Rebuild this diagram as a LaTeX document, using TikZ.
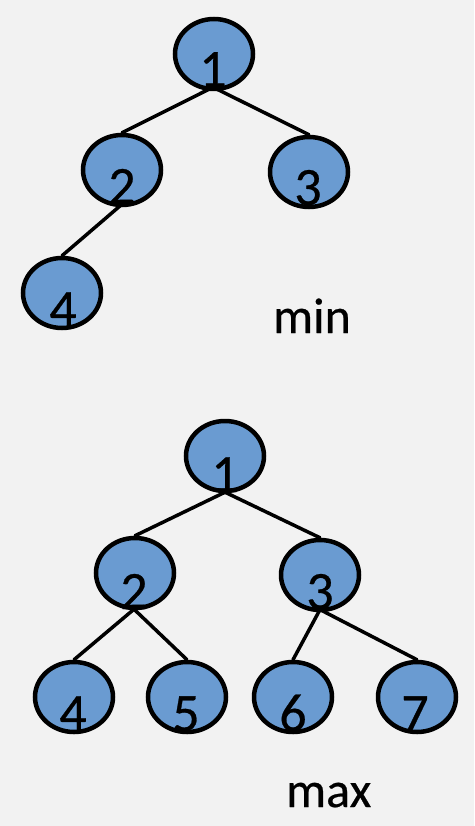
\documentclass[tikz,border=0pt]{standalone}
\usepackage{fontspec}
\setmainfont{Carlito}[FakeBold=0.5]
\usetikzlibrary{shapes.geometric}
\definecolor{pagebg}{HTML}{F2F2F2}
\definecolor{heapblue}{HTML}{6A9BD1}
\tikzset{
  heapnode/.style={ellipse, draw=black, line width=4.5pt, fill=heapblue,
    minimum width=78pt, minimum height=70pt, inner sep=0pt},
  digit/.style={anchor=base, inner sep=0pt, font=\fontsize{54}{60}\selectfont},
  caption/.style={anchor=base west, inner sep=0pt, font=\fontsize{50}{58}\selectfont},
  edge/.style={line width=3.5pt, line cap=round}
}
\begin{document}
\begin{tikzpicture}[x=1pt,y=1pt]
  \fill[pagebg] (0,0) rectangle (474,-826);
  \useasboundingbox (0,0) rectangle (474,-826);

  % upper tree: 1 / 2 3 / 4
  \node[heapnode] (a1) at (214,-54) {};
  \node[heapnode] (a2) at (122,-170) {};
  \node[heapnode] (a3) at (309,-172) {};
  \node[heapnode] (a4) at (62,-293) {};

  % lower tree: 1 / 2 3 / 4 5 6 7
  \node[heapnode] (b1) at (225,-456) {};
  \node[heapnode] (b2) at (135,-573) {};
  \node[heapnode] (b3) at (320,-575) {};
  \node[heapnode] (b4) at (74,-697) {};
  \node[heapnode] (b5) at (187,-697) {};
  \node[heapnode] (b6) at (293,-697) {};
  \node[heapnode] (b7) at (417,-697) {};

  % digits sitting low in each ellipse
  \node[digit] (ta1) at (213,-87) {1};
  \node[digit] (ta2) at (122,-204) {2};
  \node[digit] (ta3) at (308,-205) {3};
  \node[digit] (ta4) at (63,-327) {4};
  \node[digit] (tb1) at (225,-492) {1};
  \node[digit] (tb2) at (134,-609) {2};
  \node[digit] (tb3) at (320,-609) {3};
  \node[digit] (tb4) at (73,-731) {4};
  \node[digit] (tb5) at (186,-731) {5};
  \node[digit] (tb6) at (293,-731) {6};
  \node[digit] (tb7) at (415,-731) {7};

  % edges from the bottom of a parent's digit to the top of the child
  \draw[edge] (ta1.south) -- (a2.north);
  \draw[edge] (ta1.south) -- (a3.north);
  \draw[edge] (ta2.south) -- (a4.north);
  \draw[edge] (tb1.south) -- (b2.north);
  \draw[edge] (tb1.south) -- (b3.north);
  \draw[edge] (tb2.south) -- (b4.north);
  \draw[edge] (tb2.south) -- (b5.north);
  \draw[edge] (tb3.south) -- (b6.north);
  \draw[edge] (tb3.south) -- (b7.north);

  % captions
  \node[caption] (minlabel) at (273,-333) {min};
  \node[caption] (maxlabel) at (286,-807) {max};
\end{tikzpicture}
\end{document}
